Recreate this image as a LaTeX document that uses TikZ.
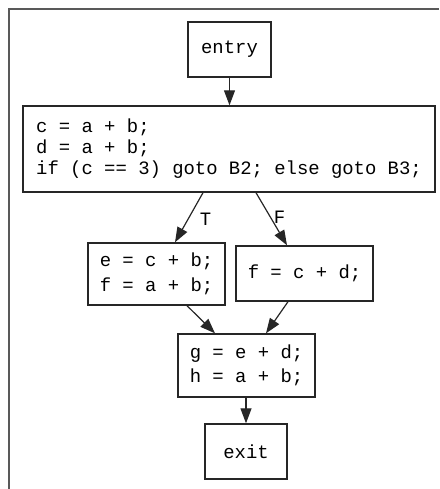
\documentclass[tikz,border=0pt]{standalone}
\usepackage{fontspec}
\newfontfamily\cfgmono{Liberation Mono}
\usetikzlibrary{arrows.meta, positioning}

\begin{document}
\frenchspacing
\begin{tikzpicture}[x=1pt, y=-1pt,
  block/.style={rectangle, draw=black!85, line width=1.4pt, inner sep=0pt,
      font=\cfgmono\fontsize{18.9}{21}\selectfont, align=left},
  flow/.style={-{Triangle[length=15pt, width=11pt]}, line width=1.2pt, draw=black!85},
  branch/.style={font=\cfgmono\fontsize{18.9}{21}\selectfont, inner sep=0pt}]

% window frame
\useasboundingbox (0,0) rectangle (439,489);
\draw[line width=1.8pt, black!65] (9,489) -- (9,9) -- (439,9);

% basic blocks
\node[block, minimum width=83pt, minimum height=55pt] (entry) at (229.5,49.5) {entry};
\node[block, minimum width=412pt, minimum height=86pt] (b1) at (229,149) {
  c = a + b;\\
  d = a + b;\\
  if (c == 3) goto B2; else goto B3;
};
\node[block, minimum width=137pt, minimum height=62pt] (b2) at (156.5,274) {
  e = c + b;\\[3.5pt]
  f = a + b;
};
\node[block, minimum width=137pt, minimum height=55pt] (b3) at (304.5,273.5) {f = c + d;};
\node[block, minimum width=137pt, minimum height=63pt] (b4) at (246.5,365.5) {
  g = e + d;\\[3.5pt]
  h = a + b;
};
\node[block, minimum width=82pt, minimum height=55pt] (exit) at (246,451.5) {exit};

% control flow
\draw[flow] (entry.south) -- (entry.south |- b1.north);
\draw[flow] ([xshift=-26pt]b1.south) -- node[branch, pos=0.53, anchor=west, xshift=11pt] {T}
  ([xshift=18.5pt]b2.north);
\draw[flow] ([xshift=27pt]b1.south) -- node[branch, pos=0.46, anchor=west, xshift=3pt] {F}
  ([xshift=-17.5pt]b3.north);
\draw[flow] ([xshift=30.5pt]b2.south) -- ([xshift=-31.5pt]b4.north);
\draw[flow] ([xshift=-16.5pt]b3.south) -- ([xshift=19.5pt]b4.north);
\draw[flow] (b4.south -| exit.north) -- (exit.north);
\end{tikzpicture}
\end{document}
